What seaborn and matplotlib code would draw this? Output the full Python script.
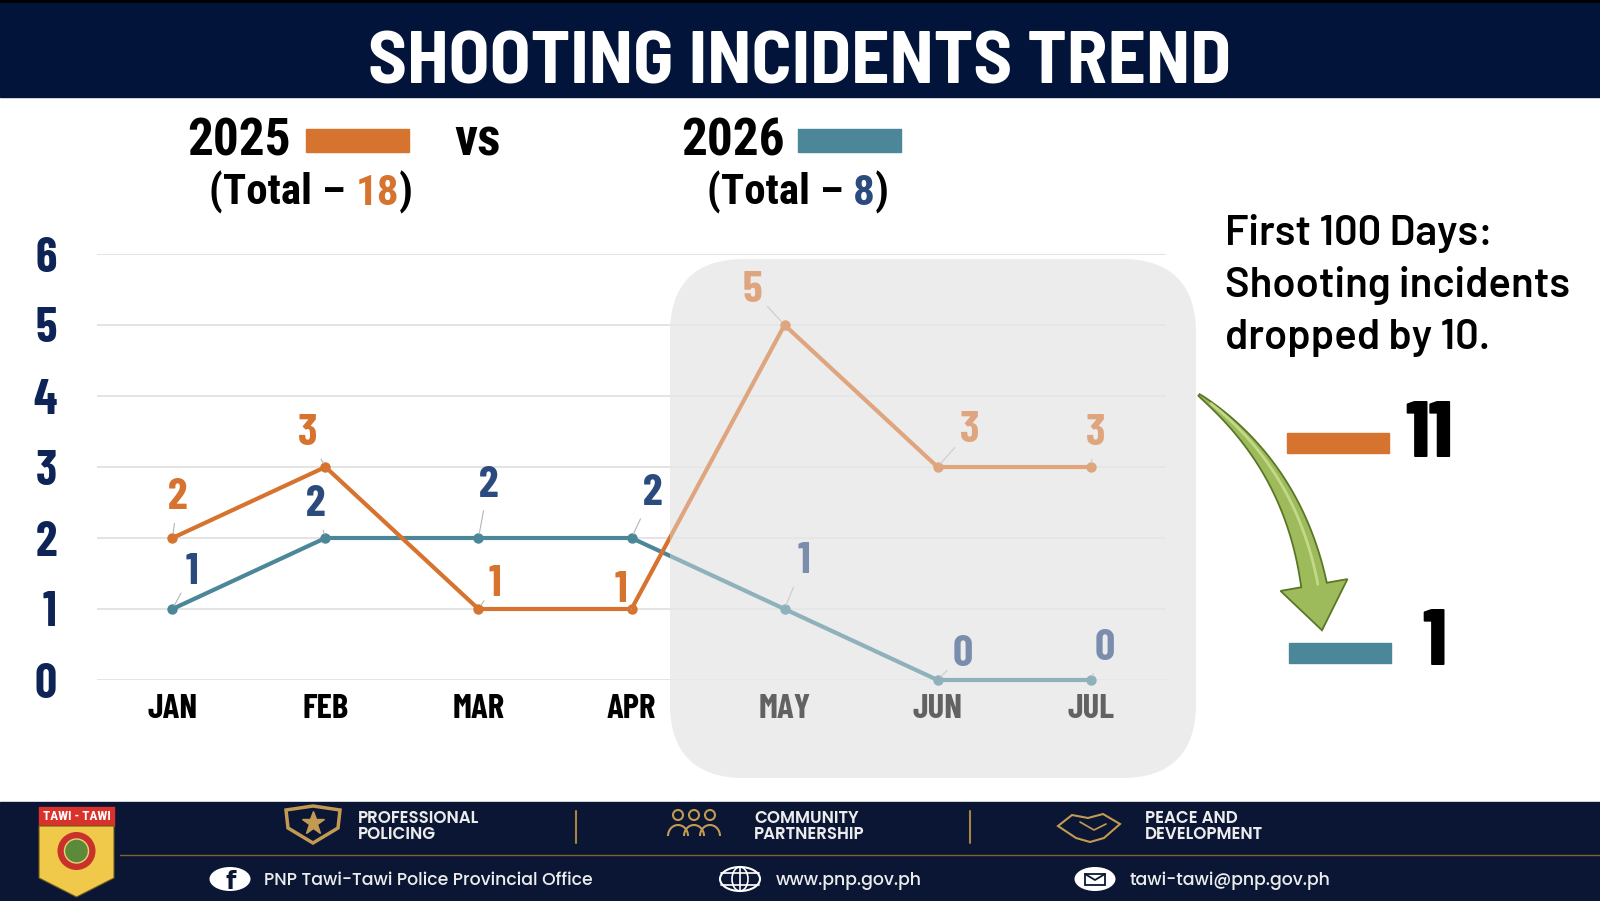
import numpy as np
import pandas as pd
import seaborn as sns
import matplotlib.pyplot as plt
from matplotlib import font_manager as fm
from matplotlib.patches import (FancyBboxPatch, Rectangle, Circle, Ellipse,
                                Polygon, Arc)

# ---- data ----
months = ["JAN", "FEB", "MAR", "APR", "MAY", "JUN", "JUL"]
incidents_2025 = [2, 3, 1, 1, 5, 3, 3]
incidents_2026 = [1, 2, 2, 2, 1, 0, 0]
y_ticks = [0, 1, 2, 3, 4, 5, 6]
total_2025 = 18
total_2026 = 8
first100_2025 = 11
first100_2026 = 1
title = "SHOOTING INCIDENTS TREND"
note_lines = ["First 100 Days:", "Shooting incidents", "dropped by 10."]
pillars = [("PROFESSIONAL", "POLICING"), ("COMMUNITY", "PARTNERSHIP"),
           ("PEACE AND", "DEVELOPMENT")]
contacts = ["PNP Tawi-Tawi Police Provincial Office", "www.pnp.gov.ph",
            "tawi-tawi@pnp.gov.ph"]

# label offsets in points (style only)
off_2025 = [(4, 29), (-13, 24), (12, 18), (-8, 13), (-23, 25), (23, 26), (4, 24)]
off_2026 = [(14, 26), (-7, 24), (7, 38), (15, 32), (14, 34), (18, 18), (10, 23)]

ORANGE = "#d6732f"
TEAL = "#4b8799"
NAVY_LBL = "#2b4a7e"
NAVY_TICK = "#0e2456"
HEAD_NAVY = "#03143a"
FOOT_NAVY = "#0a1633"
GOLD = "#c39a52"

sns.set_style("white")

installed = {f.name for f in fm.fontManager.ttflist}


def pick(*cands):
    return [c for c in cands if c in installed] + ["DejaVu Sans"]


F_TITLE = pick("Barlow Semi Condensed", "Barlow", "Fira Sans Condensed")
F_NARROW = pick("Roboto Condensed", "Archivo Narrow", "PT Sans Narrow",
                "Fira Sans Condensed")
F_DIN = pick("Barlow Condensed", "Fira Sans Condensed", "Roboto Condensed")
F_NOTE = pick("Barlow", "Fira Sans", "Roboto")
F_FOOT = pick("Poppins", "Open Sans")

plt.rcParams["font.family"] = F_DIN
plt.rcParams["text.color"] = "black"

df = pd.DataFrame({
    "month": months * 2,
    "count": incidents_2025 + incidents_2026,
    "year": ["2025"] * len(months) + ["2026"] * len(months),
})

fig = plt.figure(figsize=(16, 9.01), dpi=100)

# background layer in pixel coordinates
bg = fig.add_axes([0, 0, 1, 1], zorder=0)
bg.set_xlim(0, 1600)
bg.set_ylim(901, 0)
bg.axis("off")

# header band
bg.add_patch(Rectangle((0, 0), 1600, 3, color="black"))
bg.add_patch(Rectangle((0, 3), 1600, 94, color=HEAD_NAVY))
bg.text(800, 84, title, ha="center", va="baseline", color="white",
        fontsize=54, fontweight="bold", family=F_TITLE)

# legend-like header
for label, x in (("2025", 187), ("vs", 454), ("2026", 681)):
    bg.text(x, 156, label, ha="left", va="baseline", fontsize=37,
            fontweight="bold", family=F_NARROW)
bg.add_patch(Rectangle((306, 129), 103, 23, color=ORANGE))
bg.add_patch(Rectangle((798, 129), 103, 23, color=TEAL))


def total_label(x, value, color):
    t1 = bg.text(x, 205, "(Total \u2013 ", ha="left", va="baseline",
                 fontsize=31, fontweight="bold", family=F_NARROW)
    t2 = bg.annotate(str(value), xy=(1, 205), xycoords=(t1, "data"),
                     ha="left", va="baseline", fontsize=31,
                     fontweight="bold", color=color, family=F_NARROW)
    bg.annotate(")", xy=(1, 205), xycoords=(t2, "data"), ha="left",
                va="baseline", fontsize=31, fontweight="bold", family=F_NARROW)


total_label(209, total_2025, ORANGE)
total_label(707, total_2026, NAVY_LBL)

# shaded "first 100 days" panel (behind the lines)
panel = dict(boxstyle="round,pad=0,rounding_size=75")
bg.add_patch(FancyBboxPatch((670, 259), 526, 519, fc="#ececec", ec="none",
                            **panel))

# right-hand note
for i, line in enumerate(note_lines):
    bg.text(1225, 245 + 52 * i, line, ha="left", va="baseline", fontsize=30,
            fontweight="semibold", family=F_NOTE)
bg.add_patch(Rectangle((1287, 433), 102, 20, color=ORANGE))
bg.add_patch(Rectangle((1289, 643), 102, 20, color=TEAL))
bg.text(1405, 457, str(first100_2025), ha="left", va="baseline", fontsize=58,
        fontweight="heavy", family=F_DIN)
bg.text(1434, 665, str(first100_2026), ha="center", va="baseline",
        fontsize=58, fontweight="heavy", family=F_DIN)

# curved green arrow (decoration)
P0, P1, P2 = np.array([1199., 395.]), np.array([1293., 466.]), np.array([1314., 585.])
t = np.linspace(0, 1, 80)[:, None]
curve = (1 - t) ** 2 * P0 + 2 * (1 - t) * t * P1 + t ** 2 * P2
deriv = 2 * (1 - t) * (P1 - P0) + 2 * t * (P2 - P1)
unit = deriv / np.linalg.norm(deriv, axis=1, keepdims=True)
normal = np.column_stack([-unit[:, 1], unit[:, 0]])
half = 1 + 12 * t ** 0.8
left, right = curve + normal * half, curve - normal * half
u, n = unit[-1], normal[-1]
head = [P2 + n * 34, P2 + u * 46, P2 - n * 34]
arrow_pts = np.vstack([left, head, right[::-1]])
bg.add_patch(Polygon(arrow_pts, closed=True, fc="#9dbb5a", ec="#5a7628",
                     lw=1.3))
bg.plot(curve[5:, 0] - normal[5:, 0] * half[5:, 0] * 0.3,
        curve[5:, 1] - normal[5:, 1] * half[5:, 0] * 0.3,
        color="#cfe095", lw=2, alpha=0.8)

# footer
bg.add_patch(Rectangle((0, 802), 1600, 99, color=FOOT_NAVY))
bg.plot([120, 1600], [855, 855], color="#7d6432", lw=1)
for sx in (576, 970):
    bg.plot([sx, sx], [811, 843], color="#a88442", lw=1.5)

# logo
bg.add_patch(Rectangle((39, 807), 75, 19, color="#d9322b"))
bg.text(76.5, 816.5, "TAWI - TAWI", ha="center", va="center", color="white",
        fontsize=9.5, fontweight="bold", family=F_NARROW)
bg.add_patch(Polygon([(39, 826), (114, 826), (114, 878), (76.5, 897),
                      (39, 878)], fc="#f0c94a", ec="#6b5a1a", lw=0.8))
bg.add_patch(Circle((76.5, 851), 19, fc="#c8322a", ec="none"))
bg.add_patch(Circle((76.5, 851), 12, fc="#5d8a3a", ec="#e6d37a", lw=1))

# pillar icons
bg.add_patch(Polygon([(286, 810), (313, 806), (340, 810), (338, 828),
                      (313, 843), (288, 828)], fc=FOOT_NAVY, ec=GOLD, lw=2.5))
bg.plot([313], [823], marker="*", ms=17, color=GOLD, mec=GOLD)
for hx in (678, 694, 710):
    bg.add_patch(Circle((hx, 815), 5, fc="none", ec=GOLD, lw=1.5))
    bg.add_patch(Arc((hx, 836), 20, 22, theta1=180, theta2=360, ec=GOLD,
                     lw=1.5))
bg.add_patch(Polygon([(1058, 826), (1072, 815), (1088, 818), (1103, 814),
                      (1120, 824), (1104, 838), (1090, 842), (1076, 838)],
                     fc="none", ec=GOLD, lw=1.5))
bg.plot([1080, 1094, 1106], [822, 830, 824], color=GOLD, lw=1.2)

for (l1, l2), px in zip(pillars, (358, 754, 1145)):
    bg.text(px, 819, l1, ha="left", va="center", color="#ececec",
            fontsize=12, fontweight="semibold", family=F_FOOT)
    bg.text(px, 835, l2, ha="left", va="center", color="#ececec",
            fontsize=12, fontweight="semibold", family=F_FOOT)

# contact icons
bg.add_patch(Ellipse((230, 879), 41, 24, fc="white", ec="none"))
bg.text(231, 882, "f", ha="center", va="center", color=FOOT_NAVY,
        fontsize=17, fontweight="bold", family="DejaVu Sans")
bg.add_patch(Ellipse((740, 879), 40, 24, fc="none", ec="white", lw=1.5))
bg.add_patch(Ellipse((740, 879), 16, 24, fc="none", ec="white", lw=1.2))
bg.plot([740, 740], [867, 891], color="white", lw=1.2)
bg.plot([721, 759], [873, 873], color="white", lw=1.2)
bg.plot([721, 759], [885, 885], color="white", lw=1.2)
bg.add_patch(Ellipse((1095, 879), 41, 24, fc="white", ec="none"))
bg.add_patch(Rectangle((1085, 874), 20, 11, fc="white", ec=FOOT_NAVY, lw=1.3))
bg.plot([1085, 1095, 1105], [874, 880, 874], color=FOOT_NAVY, lw=1.3)
for txt, px in zip(contacts, (264, 776, 1130)):
    bg.text(px, 881, txt, ha="left", va="center", color="#ececec",
            fontsize=12.5, fontweight="medium", family=F_FOOT)

# ---- the chart ----
ax = fig.add_axes([97 / 1600, 1 - 680 / 901, 1069 / 1600, 426 / 901],
                  zorder=1)
ax.set_facecolor("none")
sns.lineplot(data=df, x="month", y="count", hue="year",
             hue_order=["2026", "2025"],
             palette={"2025": ORANGE, "2026": TEAL}, marker="o",
             markersize=7.5, markeredgewidth=0, linewidth=3, sort=False,
             legend=False, ax=ax)
for ln in ax.lines:
    ln.set_clip_on(False)

ax.set_xlim(-0.493, len(months) - 1 + 0.493)
ax.set_ylim(0, 6)
ax.set_yticks(y_ticks)
ax.set_yticklabels([str(v) for v in y_ticks], color=NAVY_TICK, fontsize=35,
                   fontweight="bold", family=F_DIN)
ax.set_xticks(range(len(months)))
ax.set_xticklabels(months, color="black", fontsize=25, fontweight="bold",
                   family=F_DIN)
ax.tick_params(axis="y", length=0, pad=29)
ax.tick_params(axis="x", length=0, pad=10)
ax.set_xlabel("")
ax.set_ylabel("")
sns.despine(ax=ax, left=True, bottom=True)
ax.grid(axis="y", color="#e2e2e2", lw=1.3)
ax.grid(axis="x", visible=False)
ax.set_axisbelow(True)

for vals, offs, col in ((incidents_2025, off_2025, ORANGE),
                        (incidents_2026, off_2026, NAVY_LBL)):
    for i, (v, o) in enumerate(zip(vals, offs)):
        ax.annotate(str(v), xy=(i, v), xytext=o, textcoords="offset points",
                    ha="center", va="center", color=col, fontsize=32,
                    fontweight="bold", family=F_DIN,
                    arrowprops=dict(arrowstyle="-", color="#b5b5b5", lw=0.8,
                                    shrinkA=2, shrinkB=3))

# translucent panel over the lines to fade the last three months
ov = fig.add_axes([0, 0, 1, 1], zorder=2)
ov.set_xlim(0, 1600)
ov.set_ylim(901, 0)
ov.axis("off")
ov.add_patch(FancyBboxPatch((670, 259), 526, 519, fc="#ececec", ec="none",
                            alpha=0.42, **panel))

fig.savefig("out.png", dpi=100)
